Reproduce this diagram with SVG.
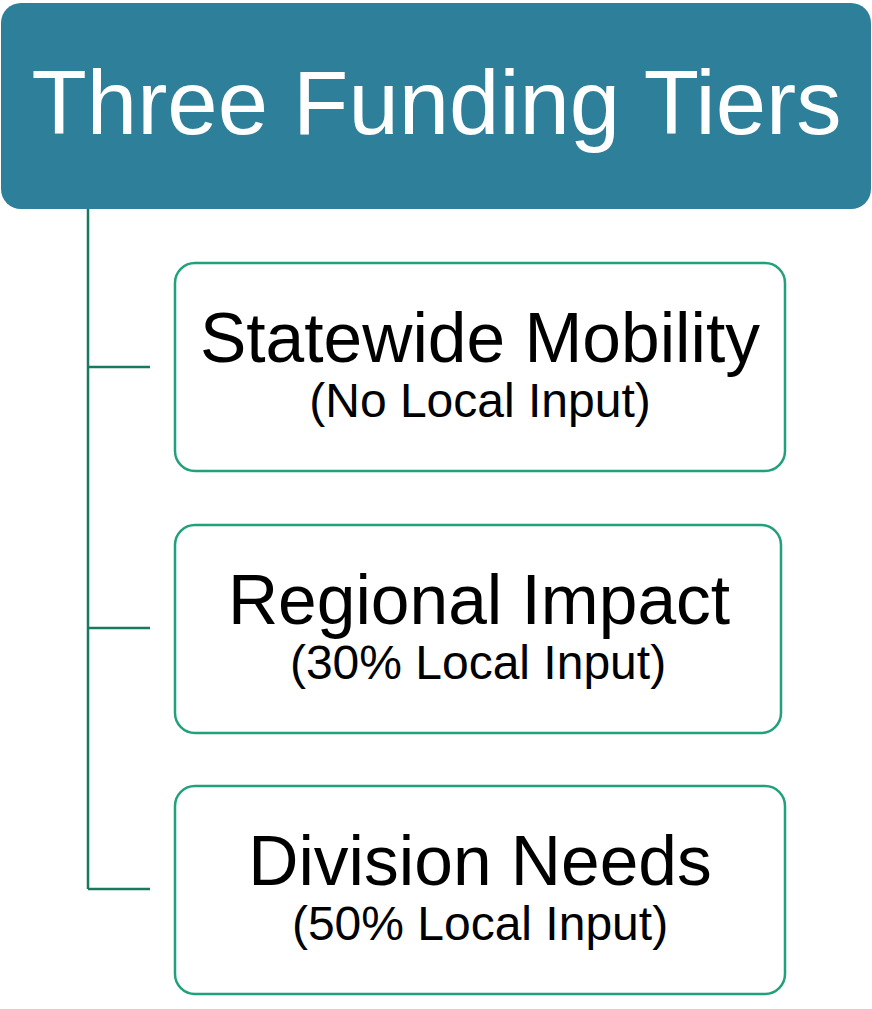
<svg xmlns="http://www.w3.org/2000/svg" width="872" height="1009" viewBox="0 0 872 1009">
<style>
.hdr{fill:#2E7F9A}
.box{fill:#FFFFFF;stroke:#22A07C;stroke-width:2.5}
.conn{fill:none;stroke:#177A5E;stroke-width:2.5}
.t{font-family:"Liberation Sans",Arial,sans-serif;text-anchor:middle}
.title{fill:#FFFFFF;font-size:90.5px}
.main{fill:#000000;font-size:69.5px}
.sub{fill:#000000;font-size:48px}
</style>
<rect width="872" height="1009" fill="#FFFFFF"/>
<g id="connectors">
<path class="conn" d="M88 209 V889 M88 367 H150 M88 628 H150 M88 889 H150"/>
</g>
<g id="header">
<rect class="hdr" x="1" y="3" width="870" height="206" rx="20"/>
<text class="t title" x="436.5" y="134">Three Funding Tiers</text>
</g>
<g id="tier1">
<rect class="box" x="175" y="263" width="610" height="208" rx="20"/>
<text class="t main" x="480" y="362">Statewide Mobility</text>
<text class="t sub" x="480" y="417">(No Local Input)</text>
</g>
<g id="tier2">
<rect class="box" x="175" y="525" width="606" height="208" rx="20"/>
<text class="t main" x="479" y="624">Regional Impact</text>
<text class="t sub" x="478" y="679">(30% Local Input)</text>
</g>
<g id="tier3">
<rect class="box" x="175" y="786" width="610" height="208" rx="20"/>
<text class="t main" x="480" y="885">Division Needs</text>
<text class="t sub" x="480" y="940">(50% Local Input)</text>
</g>
</svg>
